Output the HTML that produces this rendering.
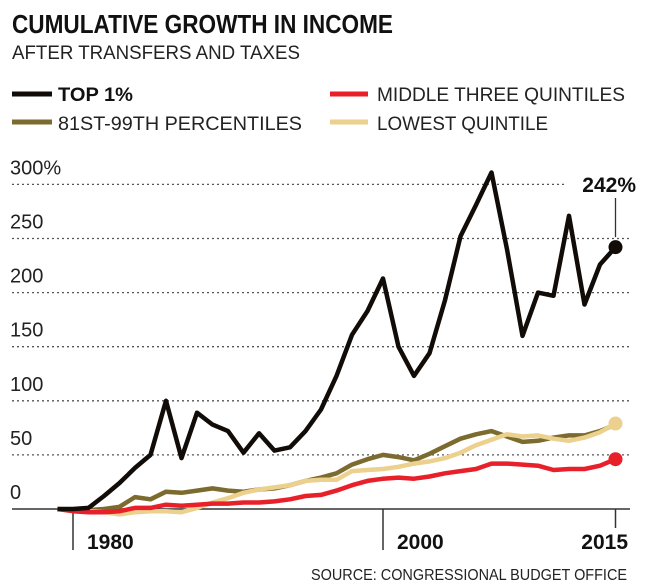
<!DOCTYPE html>
<html><head><meta charset="utf-8"><style>
body{margin:0;background:#fff}
svg{display:block;font-family:"Liberation Sans",sans-serif}
</style></head><body>
<svg id="chart" width="650" height="586" viewBox="0 0 650 586">
<text x="12" y="33" font-size="26" font-weight="bold" textLength="381" lengthAdjust="spacingAndGlyphs" fill="#111">CUMULATIVE GROWTH IN INCOME</text>
<text x="12" y="59" font-size="19" textLength="288" lengthAdjust="spacingAndGlyphs" fill="#222">AFTER TRANSFERS AND TAXES</text>
<g>
<g><line x1="12" y1="94" x2="52" y2="94" stroke="#120c08" stroke-width="5"/><text x="58" y="101" font-size="19" font-weight="bold" textLength="75" lengthAdjust="spacingAndGlyphs" fill="#111">TOP 1%</text></g>
<g><line x1="330" y1="94" x2="368" y2="94" stroke="#e8202a" stroke-width="5"/><text x="377" y="101" font-size="19" textLength="248" lengthAdjust="spacingAndGlyphs" fill="#222">MIDDLE THREE QUINTILES</text></g>
<g><line x1="12" y1="122" x2="52" y2="122" stroke="#7b6b2e" stroke-width="5"/><text x="58" y="130" font-size="19" textLength="244" lengthAdjust="spacingAndGlyphs" fill="#222">81ST-99TH PERCENTILES</text></g>
<g><line x1="330" y1="122" x2="368" y2="122" stroke="#ecd08e" stroke-width="5"/><text x="377" y="130" font-size="19" textLength="171" lengthAdjust="spacingAndGlyphs" fill="#222">LOWEST QUINTILE</text></g>
</g>
<g id="grid"></g><g id="axes"></g><g id="series"></g>
<text x="311" y="580" font-size="16" textLength="316" lengthAdjust="spacingAndGlyphs" fill="#222">SOURCE: CONGRESSIONAL BUDGET OFFICE</text>
</svg>
<script>
const years=[];for(let y=1979;y<=2015;y++)years.push(y);
const top1=[0,0,1,12,24,38,50,100,47,89,78,72,52,70,54,57,72,92,123,161,183,213,150,123,144,193,252,281,311,240,160,200,197,271,189,226,242];
const p81_99=[0,-1,-1,0,2,11,9,16,15,17,19,17,16,18,19,22,26,29,33,41,46,50,48,45,51,58,65,69,72,67,62,63,66,68,68,72,78];
const middle=[0,-2,-3,-3,-2,1,1,4,3,4,5,5,6,6,7,9,12,13,17,22,26,28,29,28,30,33,35,37,42,42,41,40,36,37,37,40,46];
const lowest=[0,-1,-2,-3,-5,-3,-2,-2,-3,1,6,10,15,18,20,22,26,27,27,35,36,37,39,42,44,47,52,59,64,69,67,68,65,63,66,71,79];
const yTicks=[0,50,100,150,200,250,300];
const yTickLabels=["0","50","100","150","200","250","300%"];
const xTicks=[1980,2000,2015];
const NS="http://www.w3.org/2000/svg";
const xS=y=>57.5+(y-1979)*15.5;
const yS=v=>509-v*54.1/50;
function mk(tag,attrs,parent){const e=document.createElementNS(NS,tag);for(const k in attrs)e.setAttribute(k,attrs[k]);parent.appendChild(e);return e;}
const grid=document.getElementById('grid'),axes=document.getElementById('axes'),ser=document.getElementById('series');
yTicks.forEach((t,i)=>{
  if(t>0){const l=mk('line',{x1:12,x2:t===300?565:630,y1:yS(t),y2:yS(t),stroke:'#555','stroke-width':1.3,'stroke-dasharray':'2,3'},grid);
  
  }
  const tx=mk('text',{x:10,y:yS(t)-10,'font-size':20,fill:'#222'},grid);
  
  
  tx.textContent=yTickLabels[i];
});
const ax=mk('line',{x1:12,x2:630,y1:yS(0),y2:yS(0),stroke:'#333','stroke-width':1.5},axes);


xTicks.forEach(t=>{
  const l=mk('line',{x1:xS(t),x2:xS(t),y1:yS(0),y2:t===2015?528:550,stroke:'#333','stroke-width':1.5},axes);
  
  
  const tx=mk('text',{x:t===2015?628:xS(t)+14,y:549,'font-size':21,'font-weight':'bold',fill:'#111','text-anchor':t===2015?'end':'start'},axes);
  
  
  tx.textContent=t;
});
function line(data,color,name,dot){
  const d=data.map((v,i)=>(i?'L':'M')+xS(years[i]).toFixed(1)+','+yS(v).toFixed(1)).join(' ');
  const p=mk('path',{d:d,fill:'none',stroke:color,'stroke-width':4.5,'stroke-linejoin':'round'},ser);
  
  
  if(dot){const n=data.length-1;const c=mk('circle',{cx:xS(years[n]),cy:yS(data[n]),r:7,fill:color},ser);
  
  }
}
line(p81_99,'#7b6b2e','p81-99',false);
line(lowest,'#ecd08e','lowest-quintile',true);
line(middle,'#e8202a','middle-quintiles',true);
line(top1,'#120c08','top-1-percent',true);
const last=top1[top1.length-1];
const ll=mk('line',{x1:xS(2015),x2:xS(2015),y1:198,y2:yS(last)-10,stroke:'#333','stroke-width':1.3},ser);


const at=mk('text',{x:636,y:192,'font-size':21,'font-weight':'bold',fill:'#111','text-anchor':'end'},ser);


at.textContent=last+'%';
</script>
</body></html>
